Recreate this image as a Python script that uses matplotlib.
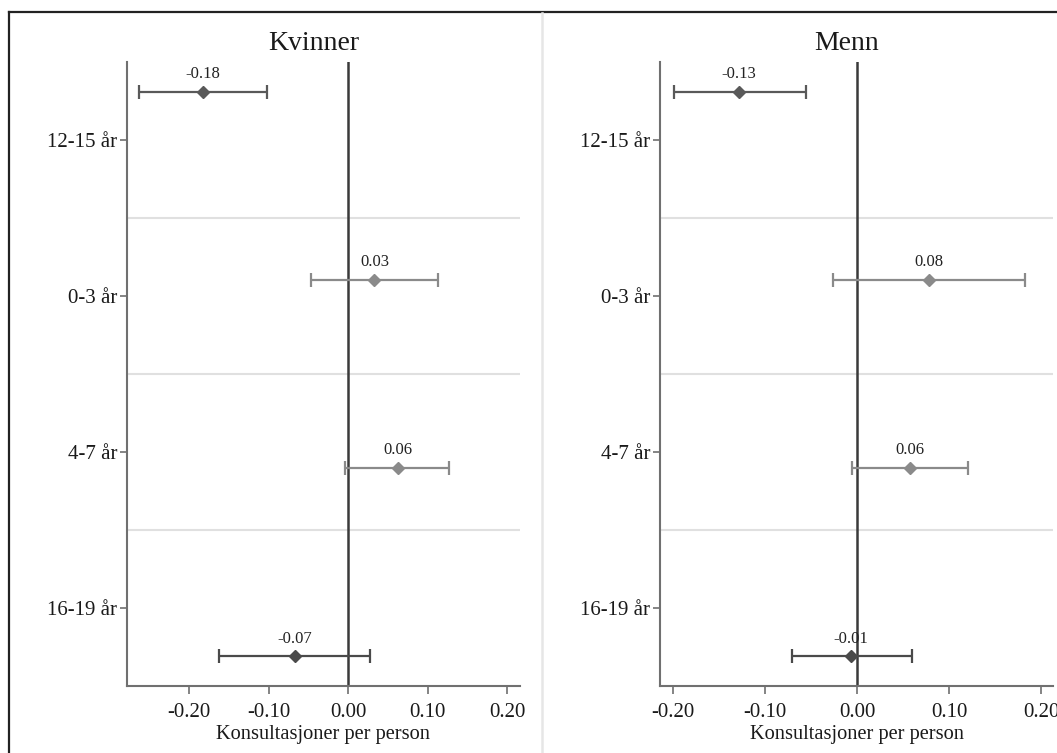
import matplotlib
matplotlib.use("Agg")
import matplotlib.pyplot as plt
from matplotlib.lines import Line2D
import numpy as np

plt.rcParams['font.family'] = ['Liberation Serif', 'DejaVu Serif']

categories = ["12-15 år", "0-3 år", "4-7 år", "16-19 år"]
panels = ["Kvinner", "Menn"]

kvinner_est = [-0.183, 0.033, 0.063, -0.067]
kvinner_lo = [-0.263, -0.047, -0.004, -0.162]
kvinner_hi = [-0.102, 0.113, 0.127, 0.028]

menn_est = [-0.128, 0.078, 0.058, -0.007]
menn_lo = [-0.199, -0.026, -0.005, -0.071]
menn_hi = [-0.055, 0.183, 0.121, 0.060]

xticks = [-0.20, -0.10, 0.00, 0.10, 0.20]
xlabel = "Konsultasjoner per person"

colors = ["#595959", "#8a8a8a", "#8a8a8a", "#4a4a4a"]

fig = plt.figure(figsize=(10.57, 7.53), dpi=100)

W, H = 1057, 753
def ax_rect(x0, x1, y0, y1):
    return [x0 / W, 1 - y1 / H, (x1 - x0) / W, (y1 - y0) / H]

axes = [fig.add_axes(ax_rect(127, 520, 62, 686)),
        fig.add_axes(ax_rect(660, 1053, 62, 686))]
xlims = [(-0.278, 0.216), (-0.214, 0.213)]
data = [(kvinner_est, kvinner_lo, kvinner_hi), (menn_est, menn_lo, menn_hi)]

n = len(categories)
ypos = np.linspace(0.19, n - 0.19, n)
ticks = np.arange(n) + 0.5

for ax, title, (est, lo, hi), xl in zip(axes, panels, data, xlims):
    ax.set_xlim(*xl)
    ax.set_ylim(n, 0)
    for b in range(1, n):
        ax.axhline(b, color="#e0e0e0", lw=1.5, zorder=0)
    ax.axvline(0, color="#3a3a3a", lw=1.8, zorder=1)
    for i in range(n):
        e = est[i]
        ax.errorbar([e], [ypos[i]], xerr=[[e - lo[i]], [hi[i] - e]],
                    fmt="D", color=colors[i], ms=6.5, elinewidth=1.6,
                    capsize=5, capthick=1.6, zorder=3)
        ax.annotate(f"{e:.2f}", (e, ypos[i]), xytext=(0, 7),
                    textcoords="offset points", ha="center", va="bottom",
                    fontsize=12, color="#222222")
    ax.set_yticks(ticks)
    ax.set_yticklabels(categories)
    ax.set_xticks(xticks)
    ax.set_xticklabels([f"{t:.2f}" for t in xticks])
    for s in ["top", "right"]:
        ax.spines[s].set_visible(False)
    for s in ["left", "bottom"]:
        ax.spines[s].set_color("#707070")
        ax.spines[s].set_linewidth(1.5)
    ax.tick_params(axis="both", colors="#707070", labelcolor="#1a1a1a",
                   labelsize=15, width=1.2)
    ax.tick_params(axis="x", length=6, pad=6.5)
    ax.tick_params(axis="y", length=5, pad=2)
    ax.set_xlabel(xlabel, fontsize=14.7, color="#1a1a1a", labelpad=2)
    ax.text(0.475, 1.010, title, transform=ax.transAxes, ha="center",
            va="bottom", fontsize=20, color="#1a1a1a")

# outer frame and panel separator
fig.add_artist(Line2D([9 / W, 1.0], [1 - 12 / H, 1 - 12 / H], color="#222222", lw=1.6))
fig.add_artist(Line2D([9 / W, 9 / W], [0, 1 - 12 / H], color="#222222", lw=1.6))
fig.add_artist(Line2D([542 / W, 542 / W], [0, 1 - 13 / H], color="#e6e6e6", lw=1.8))

fig.savefig("out.png", dpi=100)
